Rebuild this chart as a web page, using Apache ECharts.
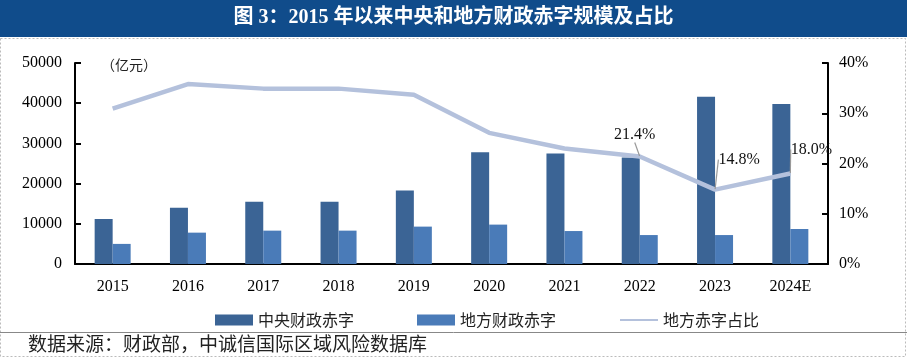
<!DOCTYPE html>
<html>
<head>
<meta charset="utf-8">
<script src="https://cdn.jsdelivr.net/npm/echarts@6/dist/echarts.min.js"></script>
<style>
html,body{margin:0;padding:0;background:#fff;}
#chart{width:907px;height:357px;}
</style>
</head>
<body>
<div id="chart"></div>
<script>
const categories = ['2015','2016','2017','2018','2019','2020','2021','2022','2023','2024E'];
const centralDeficit = [11200, 14000, 15500, 15500, 18300, 27800, 27500, 26500, 41600, 39800];
const localDeficit = [5000, 7800, 8300, 8300, 9300, 9800, 8200, 7200, 7200, 8700];
const localShare = [30.9, 35.8, 34.9, 34.9, 33.7, 26.1, 23.0, 21.4, 14.8, 18.0];
const leftTicks = [0, 10000, 20000, 30000, 40000, 50000];
const rightTicks = [0, 10, 20, 30, 40];
const labeledIdx = [7, 8, 9];
const labelOffsets = {7: [-5, -22], 8: [24, -30], 9: [21, -24]};

const serif = '"Liberation Serif","Times New Roman","Noto Sans CJK SC",serif';
const cjk = '"Noto Sans CJK SC",sans-serif';

const chart = echarts.init(document.getElementById('chart'));
const shareData = localShare.map((v, i) => labeledIdx.includes(i)
  ? {value: v, symbol: 'circle', symbolSize: 1, label: {show: true}}
  : v);

chart.setOption({
  animation: false,
  backgroundColor: '#fff',
  grid: {left: 75, right: 79, top: 63, bottom: 93, containLabel: false},
  legend: {
    left: 210, top: 307,
    itemWidth: 38, itemHeight: 11, itemGap: 63,
    textStyle: {fontFamily: cjk, fontSize: 16, color: '#222'},
    data: [
      {name: '中央财政赤字', icon: 'rect'},
      {name: '地方财政赤字', icon: 'rect'},
      {name: '地方赤字占比', itemStyle: {opacity: 0}}
    ]
  },
  xAxis: {
    type: 'category', data: categories,
    axisLine: {lineStyle: {color: '#000', width: 2}},
    axisTick: {inside: true, length: 5, lineStyle: {color: '#000', width: 2}},
    axisLabel: {fontFamily: serif, fontSize: 16, color: '#000', margin: 15}
  },
  yAxis: [{
    type: 'value', min: leftTicks[0], max: leftTicks[leftTicks.length-1], interval: 10000,
    axisLine: {show: true, lineStyle: {color: '#000', width: 2}},
    axisTick: {show: true, inside: true, length: 6, lineStyle: {color: '#000', width: 2}},
    splitLine: {show: false},
    axisLabel: {fontFamily: serif, fontSize: 16, color: '#000', margin: 13, formatter: v => String(v)}
  }, {
    type: 'value', min: rightTicks[0], max: rightTicks[rightTicks.length-1], interval: 10,
    axisLine: {show: true, lineStyle: {color: '#000', width: 2}},
    axisTick: {show: true, inside: true, length: 6, lineStyle: {color: '#000', width: 2}},
    splitLine: {show: false},
    axisLabel: {fontFamily: serif, fontSize: 16, color: '#000', margin: 11, formatter: '{value}%'}
  }],
  series: [{
    name: '中央财政赤字', type: 'bar', data: centralDeficit,
    barWidth: 18, barGap: '0%',
    itemStyle: {color: '#3B6495'}
  }, {
    name: '地方财政赤字', type: 'bar', data: localDeficit,
    barWidth: 18, barGap: '0%',
    itemStyle: {color: '#4A7BB8'}
  }, {
    name: '地方赤字占比', type: 'line', yAxisIndex: 1, data: shareData,
    symbol: 'none', showSymbol: true,
    lineStyle: {color: '#B4C1DC', width: 4.5},
    itemStyle: {color: '#B4C1DC'},
    label: {
      show: false, position: 'inside',
      fontFamily: serif, fontSize: 16, color: '#111',
      formatter: p => p.value.toFixed(1) + '%'
    },
    labelLine: {show: true, lineStyle: {color: '#999', width: 1.2}},
    labelLayout: p => {
      const o = labelOffsets[p.dataIndex];
      return o ? {dx: o[0], dy: o[1]} : {};
    },
    z: 5
  }],
  graphic: [
    {type: 'rect', shape: {x: 0, y: 0, width: 907, height: 37}, style: {fill: '#104C8B'}, z: -1},
    {type: 'text', left: 'center', top: 8, style: {text: '图 3：2015 年以来中央和地方财政赤字规模及占比', fill: '#fff', font: 'bold 20px "Liberation Serif","Noto Sans CJK SC",serif'}},
    {type: 'rect', shape: {x: 0.5, y: 38.5, width: 905, height: 318}, style: {fill: 'none', stroke: '#bbb', lineWidth: 1, lineDash: [2, 2]}, z: -2},
    {type: 'line', shape: {x1: 0, y1: 332.5, x2: 907, y2: 332.5}, style: {stroke: '#888', lineWidth: 1}},
    {type: 'text', left: 101, top: 58, style: {text: '（亿元）', fill: '#222', font: '14px "Noto Sans CJK SC",sans-serif'}},
    {type: 'text', left: 28, top: 334, style: {text: '数据来源：财政部，中诚信国际区域风险数据库', fill: '#222', font: '19px "Noto Sans CJK SC",sans-serif'}}
  ]
});
</script>
</body>
</html>
